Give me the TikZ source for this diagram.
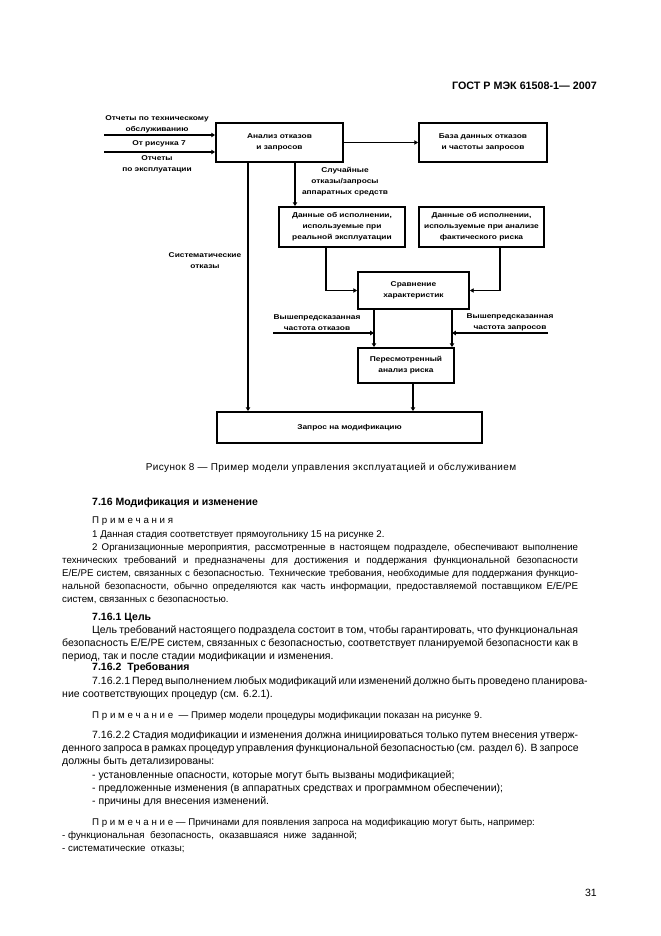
\documentclass[tikz,border=0pt]{standalone}
\usepackage{fontspec}
\setmainfont{Liberation Sans}
\newfontfamily\diagfamily[FakeStretch=1.2]{Liberation Sans}
\newfontfamily\capfamily[LetterSpace=4]{Liberation Sans}
\usetikzlibrary{arrows.meta}
\def\pxu{0.3175mm}
\newcommand{\diagfont}{\diagfamily\bfseries\fontsize{6.3}{9.9}\selectfont}
\newcommand{\bodyfont}{\fontsize{9.5}{11.9}\selectfont}
\newcommand{\notefont}{\fontsize{8.8}{11.9}\selectfont}
\newcommand{\fl}[1]{\makebox[\linewidth][s]{#1}\par}

\begin{document}
\begin{tikzpicture}[
    % 1 unit = one pixel of the 661 x 936 page, y grows downwards
    x=0.3175mm, y=-0.3175mm,
    box/.style={draw, line width=0.6mm, align=center, inner sep=1pt,
                font=\diagfont},
    lbl/.style={align=center, inner sep=0pt, font=\diagfont},
    arr/.style={-{Triangle[length=1.2mm, width=1.4mm]}, line width=0.55mm},
    para/.style={anchor=base west, inner sep=0pt, text width=163.8mm,
                 align=justify, font=\bodyfont},
    head/.style={anchor=base west, inner sep=0pt,
                 font=\bfseries\fontsize{9.5}{11}\selectfont}
  ]
  \path[use as bounding box, fill=white] (0,0) rectangle (661,936);

  \node[anchor=base east, inner sep=0pt,
        font=\bfseries\fontsize{9.7}{11}\selectfont] (gost) at (597,89.5)
        {ГОСТ Р МЭК 61508-1— 2007};

  % ── Boxes of figure 8 ────────────────────────────────────────────────────
  \node[box, minimum width=127*\pxu, minimum height=39*\pxu]
        (analysis) at (279.5,142.5) {Анализ отказов\\и запросов};
  \node[box, minimum width=128*\pxu, minimum height=39*\pxu]
        (database) at (483,142.5) {База данных отказов\\и частоты запросов};
  \node[box, minimum width=126*\pxu, minimum height=40*\pxu]
        (realdata) at (342,227)
        {Данные об исполнении,\\используемые при\\реальной эксплуатации};
  \node[box, minimum width=125*\pxu, minimum height=40*\pxu]
        (riskdata) at (481.5,227)
        {Данные об исполнении,\\используемые при анализе\\фактического риска};
  \node[box, minimum width=111*\pxu, minimum height=37*\pxu]
        (compare) at (413.5,290.5) {Сравнение\\характеристик};
  \node[box, minimum width=96*\pxu, minimum height=35*\pxu]
        (revised) at (406,365.5) {Пересмотренный\\анализ риска};
  \node[box, minimum width=265*\pxu, minimum height=31*\pxu]
        (request) at (349.5,427.5) {Запрос на модификацию};

  % ── Inputs on the left ───────────────────────────────────────────────────
  \coordinate (maint) at (104,135);
  \coordinate (oper)  at (104,152);
  \draw[arr] (maint) -- (maint -| analysis.west);
  \draw[arr] (oper)  -- (oper -| analysis.west);
  \node[lbl] (maintlbl) at (157,124.5) {Отчеты по техническому\\обслуживанию};
  \node[lbl] (fig7lbl)  at (159,143.3) {От рисунка 7};
  \node[lbl] (operlbl)  at (157,164.5) {Отчеты\\по эксплуатации};

  \draw[arr] (analysis) -- (database);

  % systematic failures straight down to the request
  \draw[arr] (analysis.south -| 248,0) -- (request.north -| 248,0);
  \node[lbl] (syslbl) at (205,260.5) {Систематические\\отказы};

  % random failures to the operating data
  \draw[arr] (analysis.south -| 295,0) -- (realdata.north -| 295,0);
  \node[lbl] (randlbl) at (345,182)
        {Случайные\\отказы/запросы\\аппаратных средств};

  % ── Comparison and revised risk analysis ─────────────────────────────────
  \draw[arr] (realdata.south -| 326,0) |- (compare.west);
  \draw[arr] (riskdata.south -| 500,0) |- (compare.east);

  \draw[arr] (compare.south -| 374,0) -- (revised.north -| 374,0);
  \draw[arr] (compare.south -| 452,0) -- (revised.north -| 452,0);

  \coordinate (predfail) at (273,333);
  \coordinate (failjoin) at (374,333);
  \coordinate (predreq)  at (548,333);
  \coordinate (reqjoin)  at (452,333);
  \draw[arr] (predfail) -- (failjoin);
  \draw[arr] (predreq)  -- (reqjoin);
  \node[lbl] (predfaillbl) at (317,322.5) {Вышепредсказанная\\частота отказов};
  \node[lbl] (predreqlbl)  at (510,322.5) {Вышепредсказанная\\частота запросов};

  \draw[arr] (revised.south -| 413,0) -- (request.north -| 413,0);

  \node[anchor=base, inner sep=0pt, font=\capfamily\fontsize{9}{11}\selectfont]
        (caption) at (331,470.5)
        {Рисунок 8 — Пример модели управления эксплуатацией и обслуживанием};

  % ── Text of 7.16 ─────────────────────────────────────────────────────────
  \node[head] (h716) at (92,505.5) {7.16 Модификация и изменение};
  \node[para, font=\notefont] (notes) at (92,523.5) {П р и м е ч а н и я};
  \node[para, font=\notefont] (note12) at (62,537)
        {\hspace*{9.5mm}1 Данная стадия соответствует прямоугольнику 15 на рисунке 2.\par
         \fl{\hspace*{9.5mm}2 Организационные мероприятия, рассмотренные в настоящем подразделе, обеспечивают выполнение}
         \fl{технических требований и предназначены для достижения и поддержания функциональной безопасности}
         \fl{E/E/PE систем, связанных с безопасностью. Технические требования, необходимые для поддержания функцио-}
         \fl{нальной безопасности, обычно определяются как часть информации, предоставляемой поставщиком E/E/PE}
         систем, связанных с безопасностью.};

  \node[head] (h7161) at (92,620) {7.16.1 Цель};
  \node[para] (goal) at (62,633)
        {\fl{\hspace*{9.5mm}Цель требований настоящего подраздела состоит в том, чтобы гарантировать, что функциональная}
         \fl{безопасность E/E/PE систем, связанных с безопасностью, соответствует планируемой безопасности как в}
         период, так и после стадии модификации и изменения.};

  \node[head] (h7162) at (92,670.5) {7.16.2~ Требования};
  \node[para] (req1) at (62,684.5)
        {\fl{\hspace*{9.5mm}7.16.2.1 Перед выполнением любых модификаций или изменений должно быть проведено планирова-}
         ние соответствующих процедур (см. 6.2.1).};
  \node[para, font=\notefont] (note9) at (92,718.5)
        {П р и м е ч а н и е~ — Пример модели процедуры модификации показан на рисунке 9.};
  \node[para] (req2) at (62,738.5)
        {\fl{\hspace*{9.5mm}7.16.2.2 Стадия модификации и изменения должна инициироваться только путем внесения утверж-}
         \fl{денного запроса в рамках процедур управления функциональной безопасностью (см. раздел 6). В запросе}
         должны быть детализированы:\par
         \hspace*{9.5mm}- установленные опасности, которые могут быть вызваны модификацией;\par
         \hspace*{9.5mm}- предложенные изменения (в аппаратных средствах и программном обеспечении);\par
         \hspace*{9.5mm}- причины для внесения изменений.};
  \node[para, font=\notefont] (notecause) at (62,825.5)
        {\hspace*{9.5mm}П р и м е ч а н и е — Причинами для появления запроса на модификацию могут быть, например:\par
         - функциональная~ безопасность,~ оказавшаяся~ ниже~ заданной;\par
         - систематические~ отказы;};

  \node[anchor=base east, inner sep=0pt, font=\bodyfont] (pagenum) at (597,896) {31};
\end{tikzpicture}
\end{document}
